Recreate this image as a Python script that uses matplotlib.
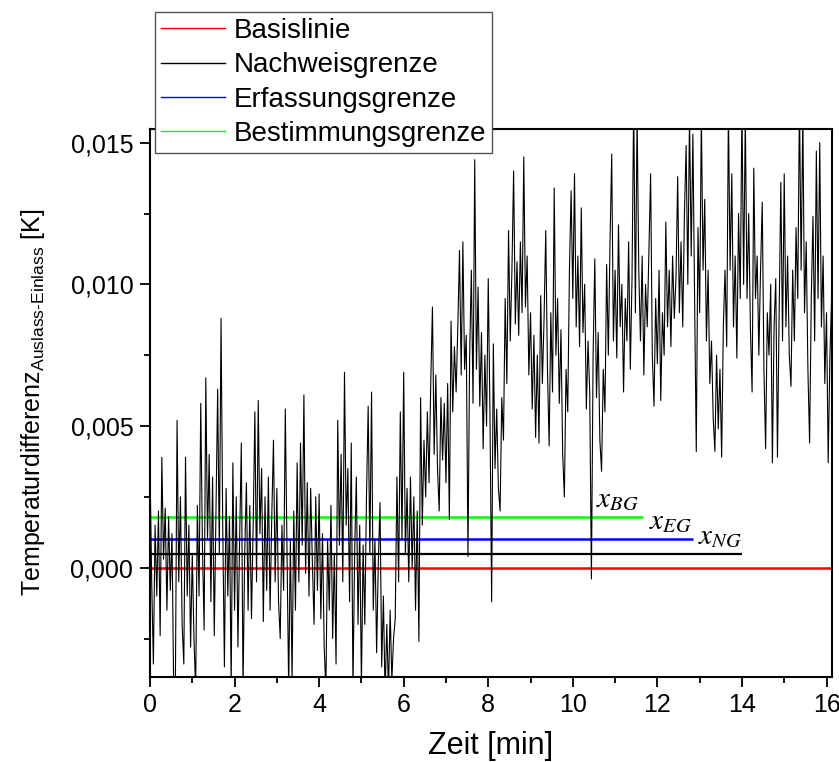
import numpy as np
import matplotlib
matplotlib.use("Agg")
import matplotlib.pyplot as plt
from matplotlib.lines import Line2D
from matplotlib.ticker import FixedLocator, FixedFormatter, MultipleLocator

plt.rcParams['font.family'] = ['Liberation Sans', 'DejaVu Sans']
plt.rcParams['mathtext.fontset'] = 'custom'
plt.rcParams['mathtext.rm'] = 'Liberation Sans'
plt.rcParams['mathtext.it'] = 'Liberation Sans:italic'

# Temperature difference outlet - inlet, sampled every 0.04 min, in mK
sample_step_min = 0.04
temp_diff_mK = [
    # 0 min
    3.6, -0.5, -3.4, 1.5, -1.0, 2.0, -2.4, 3.9, 0.3, 2.1, -1.5, 1.8, -0.8, 1.2, -4.3, -4.2, 5.2, -0.5, 2.5, -2.0, -3.4, 3.9, -1.0, 1.5, -2.8,
    # 1 min
    0.5, -2.5, -4.3, 2.2, -1.0, 5.8, 0.8, -2.2, 6.7, 1.0, 4.0, -1.2, 3.2, -2.4, 2.0, 6.3, 0.5, 8.8, 1.5, -3.5, 2.8, -1.0, 1.8, -4.2, 3.7,
    # 2 min
    -1.5, 2.5, -2.8, 1.0, 4.4, -4.3, 0.5, 3.0, -1.5, 2.2, -1.8, 1.5, 5.5, -0.5, 5.9, 1.2, 3.5, -1.9, 2.5, -0.8, 3.2, -1.5, 1.8, 4.5, -0.5,
    # 3 min
    2.8, -1.2, -2.5, 1.5, -0.8, 5.6, 0.5, -4.3, 1.0, -4.0, 2.0, -1.5, 3.7, -0.5, 4.4, 0.8, 6.1, -0.2, 3.0, -1.0, 2.8, 0.2, -2.0, 2.5, -0.8,
    # 4 min
    2.6, -1.8, 1.2, -2.8, -4.3, 1.0, -1.5, 2.2, -2.5, 0.5, -3.4, 5.2, 0.8, 4.0, -0.5, 6.9, 1.5, 3.5, -1.2, 4.4, -4.3, 0.5, 3.2, -2.0, 1.5,
    # 5 min
    -4.2, 0.8, -2.0, 2.5, 5.7, 0.5, 6.2, -1.5, 1.0, -3.0, 0.2, 2.3, -3.5, -1.0, -4.5, -2.0, -4.4, -1.5, -4.0, -2.5, -1.8, 3.2, -0.5, 5.5, 1.0,
    # 6 min
    6.9, 0.5, 2.8, -0.5, 3.2, 0.0, 2.5, -1.5, 2.0, -2.6, 6.0, 1.5, 4.5, 2.5, 5.5, 3.0, 6.5, 9.2, 4.0, 6.8, 3.5, 2.0, 6.0, 3.8, 5.8,
    # 7 min
    3.0, 6.5, 1.7, 8.7, 5.5, 7.8, 6.2, 8.5, 11.2, 6.8, 11.5, 7.0, 8.2, 0.4, 7.5, 10.5, 5.8, 14.4, 7.0, 9.9, 5.7, 8.3, 4.2, 7.5, 5.0,
    # 8 min
    10.2, 5.5, -1.2, 7.9, 3.5, 5.6, 2.8, 2.0, 6.0, 4.5, 9.5, 6.5, 11.9, 8.0, 10.5, 14.0, 8.6, 10.8, 8.2, 11.5, 9.0, 14.5, 9.2, 11.0, 6.8,
    # 9 min
    9.0, 5.6, 8.2, 4.6, 7.5, 4.4, 9.6, 6.5, 8.8, 11.9, 7.0, 4.3, 9.0, 6.2, 13.4, 7.5, 9.5, 5.8, 8.4, 4.0, 2.5, 7.0, 5.5, 10.5, 13.3,
    # 10 min
    9.5, 13.9, 8.5, 11.0, 7.8, 12.7, 8.3, 10.0, 5.6, 8.0, 6.2, -0.4, 7.5, 10.9, 6.0, 8.3, 4.5, 3.4, 7.0, 5.5, 10.7, 7.5, 11.5, 14.6, 8.0,
    # 11 min
    10.5, 7.4, 12.1, 8.5, 10.0, 6.2, 9.5, 8.0, 11.5, 7.0, 10.2, 16.5, 9.0, 16.0, 10.5, 8.0, 11.0, 6.8, 10.0, 8.5, 11.2, 13.9, 7.5, 5.7, 9.5,
    # 12 min
    7.2, 10.5, 5.9, 9.0, 7.5, 12.2, 8.5, 10.5, 7.8, 11.0, 8.8, 10.2, 13.8, 9.0, 11.5, 8.5, 12.5, 14.9, 10.0, 16.0, 11.0, 15.3, 9.5, 4.1, 12.0,
    # 13 min
    9.0, 16.0, 10.5, 13.0, 8.0, 10.5, 6.5, 8.0, 5.3, 4.1, 7.5, 4.9, 7.0, 3.9, 8.5, 10.5, 7.8, 16.2, 10.5, 13.9, 8.5, 11.0, 7.4, 12.5, 9.5,
    # 14 min
    16.3, 10.0, 16.0, 9.5, 12.5, 8.5, 6.2, 14.1, 9.5, 11.0, 7.5, 10.5, 12.9, 7.0, 4.2, 9.0, 7.5, 10.0, 3.7, 8.5, 10.2, 3.9, 9.0, 13.6, 8.0,
    # 15 min
    13.9, 8.5, 11.0, 7.5, 6.4, 10.5, 8.0, 12.0, 9.5, 16.5, 10.5, 16.0, 9.0, 11.5, 7.0, 4.4, 9.5, 12.4, 8.0, 14.7, 9.5, 15.0, 8.5, 11.0, 6.5,
    # 16 min
    9.0, 3.7, 7.4, 9.5, 8.0,
]

# Reference levels [K] and the time up to which each is drawn [min]
level_names = ['Basislinie', 'Nachweisgrenze', 'Erfassungsgrenze', 'Bestimmungsgrenze']
level_values = [0.0, 0.0005, 0.0010, 0.0018]
level_ends = [16.13, 14.0, 12.85, 11.65]
level_colors = ['#ff0000', '#000000', '#0000ff', '#00ff00']
level_widths = [1.8, 1.6, 1.8, 1.8]

# Level annotations: text, time [min], value [K]
annot_texts = [r'$x_{BG}$', r'$x_{EG}$', r'$x_{NG}$']
annot_t = [10.55, 11.8, 12.97]
annot_v = [0.00215, 0.00135, 0.00082]

x_ticks = [0, 2, 4, 6, 8, 10, 12, 14, 16]
y_ticks = [0.0, 0.005, 0.010, 0.015]
y_tick_labels = ['0,000', '0,005', '0,010', '0,015']

signal = np.asarray(temp_diff_mK) * 1e-3
time_min = np.arange(len(signal)) * sample_step_min

fig = plt.figure(figsize=(8.39, 7.62), dpi=100)
ax = fig.add_axes([150 / 839, (762 - 676.5) / 762, 682 / 839, 548 / 762])

for val, end, col, lw in zip(level_values, level_ends, level_colors, level_widths):
    ax.hlines(val, 0, end, colors=col, linewidth=lw, zorder=2)

ax.plot(time_min, signal, color='black', linewidth=0.8, zorder=3)

for txt, tx, ty in zip(annot_texts, annot_t, annot_v):
    ax.text(tx, ty, txt, fontsize=21, math_fontfamily='stix', zorder=4,
            ha='left', va='baseline')

ax.set_xlim(0, 16.13)
ax.set_ylim(-0.00384, 0.0155)

ax.xaxis.set_major_locator(FixedLocator(x_ticks))
ax.xaxis.set_minor_locator(MultipleLocator(1))
ax.yaxis.set_major_locator(FixedLocator(y_ticks))
ax.yaxis.set_major_formatter(FixedFormatter(y_tick_labels))
ax.yaxis.set_minor_locator(MultipleLocator(0.0025))

ax.tick_params(which='major', direction='out', length=7, width=1.3,
               labelsize=18, top=False, right=False, pad=5)
ax.tick_params(which='minor', direction='out', length=4, width=1.3,
               top=False, right=False)
for sp in ax.spines.values():
    sp.set_linewidth(1.5)

ax.set_xlabel('Zeit [min]', fontsize=22, labelpad=10)
ax.set_ylabel(r'Temperaturdifferenz$_{\text{Auslass-Einlass}}$ [K]',
              fontsize=18, labelpad=17)

handles = [Line2D([], [], color=c, linewidth=1.0) for c in level_colors]
leg = fig.legend(handles, level_names, loc='upper left',
                 bbox_to_anchor=(155 / 839, 1 - 12 / 762),
                 fontsize=20, frameon=True, fancybox=False, shadow=False,
                 framealpha=1.0, edgecolor='#555555', borderpad=0.22,
                 labelspacing=0.3, handlelength=2.3, handletextpad=0.3,
                 borderaxespad=0.0)
leg.get_frame().set_linewidth(1.0)
leg.set_zorder(10)

fig.savefig('out.png', dpi=100)
